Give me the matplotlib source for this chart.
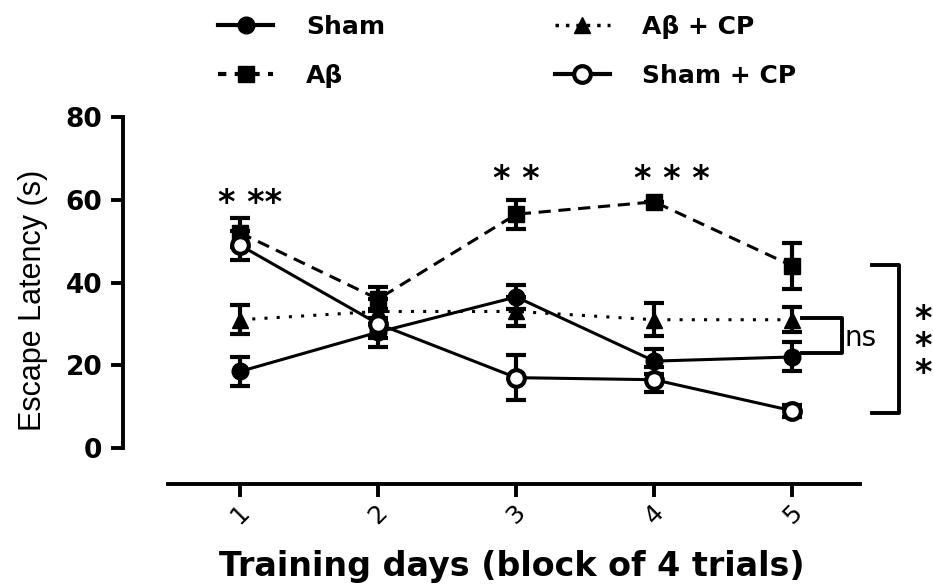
import matplotlib
matplotlib.use("Agg")
import matplotlib.pyplot as plt
from matplotlib.lines import Line2D

plt.rcParams['font.family'] = ['DejaVu Sans']

days = [1, 2, 3, 4, 5]
sham = [18.5, 28.0, 36.5, 21.0, 22.0]
sham_err = [3.5, 3.5, 3.0, 3.0, 3.5]
abeta = [52.0, 36.0, 56.5, 59.5, 44.0]
abeta_err = [3.5, 3.0, 3.5, 0.0, 5.5]
abeta_cp = [31.0, 33.0, 33.0, 31.0, 31.0]
abeta_cp_err = [3.5, 3.0, 3.5, 4.0, 3.0]
sham_cp = [49.0, 30.0, 17.0, 16.5, 9.0]
sham_cp_err = [3.5, 3.5, 5.5, 3.0, 1.5]

fig = plt.figure(figsize=(9.33, 5.88), dpi=100)
ax = fig.add_axes([0.1318, 0.1769, 0.79, 0.6241])

common = dict(color='black', capsize=7, capthick=3, elinewidth=3, markersize=12, lw=2.2)
ax.errorbar(days, sham, yerr=sham_err, marker='o', ls='-', **common)
ax.errorbar(days, abeta, yerr=abeta_err, marker='s', ls=(0, (4, 2.5)), **common)
ax.errorbar(days, abeta_cp, yerr=abeta_cp_err, marker='^', ls=(0, (1, 3)), **common)
ax.errorbar(days, sham_cp, yerr=sham_cp_err, marker='o', ls='-', mfc='white', mew=3, **common)

ax.set_xlim(0.152, 5.49)
ax.set_ylim(-8.7, 80)
ax.spines['top'].set_visible(False)
ax.spines['right'].set_visible(False)
ax.spines['left'].set_bounds(0, 80)
ax.spines['bottom'].set_bounds(0.478, 5.49)
ax.spines['left'].set_linewidth(2.8)
ax.spines['bottom'].set_linewidth(2.8)
ax.set_yticks([0, 20, 40, 60, 80])
ax.set_yticklabels(['0', '20', '40', '60', '80'], fontsize=19, fontweight='bold')
ax.set_xticks(days)
ax.set_xticklabels([str(d) for d in days], fontsize=18, rotation=45)
ax.tick_params(width=2.8, length=9)
ax.tick_params(axis='y', pad=6)
ax.tick_params(axis='x', pad=3)
ax.set_ylabel('Escape Latency (s)', fontsize=22, family='Liberation Sans')
ax.yaxis.set_label_coords(-0.102, 0.5)
ax.set_xlabel('Training days (block of 4 trials)', fontsize=24, fontweight='bold', va='center')
ax.xaxis.set_label_coords(0.528, -0.226)

# significance marks
ax.text(1.07, 59.0, '* **', fontsize=24, fontweight='bold', ha='center', va='center')
ax.text(3.0, 65.0, '* *', fontsize=24, fontweight='bold', ha='center', va='center')
ax.text(4.13, 65.0, '* * *', fontsize=24, fontweight='bold', ha='center', va='center')

ax.plot([5.07, 5.36, 5.36, 5.07], [31.4, 31.4, 23, 23], color='black', lw=2.8, clip_on=False)
ax.text(5.38, 26.6, 'ns', fontsize=20, ha='left', va='center')
ax.plot([5.58, 5.77, 5.77, 5.58], [44.2, 44.2, 8.5, 8.5], color='black', lw=2.8, clip_on=False)
ax.text(5.88, 24.5, '*\n*\n*', fontsize=24, fontweight='bold', ha='left', va='center',
        linespacing=0.78, clip_on=False)

handles = [
    Line2D([], [], color='black', marker='o', ls='-', lw=3, markersize=12),
    Line2D([], [], color='black', marker='s', ls=(0, (2, 2)), lw=3, markersize=12),
    Line2D([], [], color='black', marker='^', ls=(0, (1, 2)), lw=2.5, markersize=12),
    Line2D([], [], color='black', marker='o', ls='-', lw=3, markersize=12, mfc='white', mew=3),
]
labels = ['Sham', 'Aβ', 'Aβ + CP', 'Sham + CP']
fig.legend(handles, labels, ncol=2, loc='upper left', bbox_to_anchor=(0.234, 0.975),
           frameon=False, prop={'size': 18, 'weight': 'bold'}, handlelength=2.2,
           columnspacing=6.8, labelspacing=1.0, handletextpad=1.3,
           borderpad=0, borderaxespad=0)

fig.savefig('out.png', dpi=100)
